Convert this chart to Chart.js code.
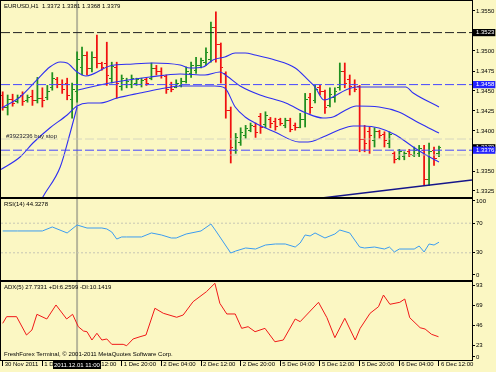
<!DOCTYPE html>
<html><head><meta charset="utf-8">
<script src="https://cdn.jsdelivr.net/npm/chart.js@4"></script>
<style>
html,body{margin:0;padding:0;background:#fbf7c3;width:496px;height:372px;overflow:hidden}
canvas{position:absolute;left:0}
</style></head><body>
<canvas id="main" width="496" height="198" style="top:0px"></canvas>
<canvas id="rsi" width="496" height="83" style="top:198px"></canvas>
<canvas id="adx" width="496" height="91" style="top:281px"></canvas>
<script>
// ---------- DATA ----------
const barOpen  = [1.3445,1.3430,1.3440,1.3437,1.3444,1.3438,1.3443,1.3438,1.3441,1.3442,1.3454,1.3464,1.3458,1.3460,1.3440,1.3450,1.3480,1.3495,1.3478,1.3492,1.3484,1.3484,1.3466,1.3480,1.3456,1.3458,1.3458,1.3459,1.3458,1.3464,1.3466,1.3478,1.3474,1.3468,1.3455,1.3455,1.3457,1.3462,1.3472,1.3476,1.3482,1.3486,1.3490,1.3530,1.3508,1.3472,1.3426,1.3376,1.3386,1.3395,1.3401,1.3406,1.3418,1.3408,1.3414,1.3412,1.3414,1.3407,1.3413,1.3407,1.3405,1.3414,1.3442,1.3438,1.3454,1.3449,1.3432,1.3442,1.3455,1.3475,1.3464,1.3458,1.3456,1.3390,1.3400,1.3388,1.3399,1.3396,1.3384,1.3372,1.3366,1.3368,1.3375,1.3370,1.3372,1.3376,1.3340,1.3376,1.3372];
const barHigh  = [1.3449,1.3445,1.3446,1.3445,1.3449,1.3445,1.3451,1.3467,1.3454,1.3457,1.3473,1.3467,1.3464,1.3466,1.3460,1.3499,1.3505,1.3499,1.3499,1.3520,1.3486,1.3511,1.3486,1.3486,1.3470,1.3466,1.3470,1.3466,1.3466,1.3466,1.3485,1.3482,1.3479,1.3470,1.3461,1.3464,1.3466,1.3480,1.3486,1.3492,1.3491,1.3504,1.3536,1.3549,1.3510,1.3474,1.3430,1.3397,1.3404,1.3407,1.3410,1.3410,1.3422,1.3424,1.3417,1.3416,1.3416,1.3416,1.3416,1.3410,1.3422,1.3447,1.3447,1.3457,1.3457,1.3451,1.3454,1.3454,1.3485,1.3485,1.3470,1.3464,1.3457,1.3407,1.3405,1.3404,1.3401,1.3399,1.3399,1.3374,1.3377,1.3374,1.3377,1.3380,1.3382,1.3382,1.3385,1.3380,1.3381];
const barLow   = [1.3426,1.3420,1.3431,1.3435,1.3432,1.3436,1.3432,1.3435,1.3430,1.3439,1.3451,1.3454,1.3447,1.3439,1.3416,1.3436,1.3470,1.3470,1.3474,1.3479,1.3476,1.3457,1.3460,1.3441,1.3451,1.3454,1.3454,1.3457,1.3455,1.3457,1.3464,1.3470,1.3466,1.3447,1.3449,1.3454,1.3455,1.3460,1.3467,1.3472,1.3479,1.3482,1.3486,1.3486,1.3460,1.3416,1.3360,1.3372,1.3382,1.3391,1.3399,1.3392,1.3397,1.3404,1.3404,1.3401,1.3407,1.3404,1.3399,1.3401,1.3404,1.3405,1.3422,1.3435,1.3445,1.3422,1.3430,1.3436,1.3451,1.3454,1.3445,1.3449,1.3374,1.3374,1.3372,1.3380,1.3391,1.3380,1.3379,1.3360,1.3364,1.3364,1.3368,1.3368,1.3368,1.3332,1.3332,1.3357,1.3368];
const barClose = [1.3430,1.3440,1.3434,1.3442,1.3437,1.3442,1.3438,1.3441,1.3438,1.3450,1.3466,1.3458,1.3452,1.3445,1.3452,1.3490,1.3495,1.3478,1.3492,1.3484,1.3480,1.3470,1.3481,1.3460,1.3466,1.3462,1.3466,1.3464,1.3463,1.3460,1.3478,1.3474,1.3470,1.3452,1.3452,1.3460,1.3462,1.3474,1.3482,1.3482,1.3488,1.3498,1.3530,1.3508,1.3480,1.3426,1.3380,1.3392,1.3398,1.3403,1.3407,1.3398,1.3404,1.3420,1.3409,1.3406,1.3410,1.3413,1.3402,1.3404,1.3415,1.3440,1.3430,1.3452,1.3449,1.3430,1.3446,1.3450,1.3475,1.3460,1.3456,1.3452,1.3390,1.3384,1.3394,1.3400,1.3394,1.3388,1.3396,1.3364,1.3374,1.3372,1.3371,1.3376,1.3378,1.3340,1.3375,1.3366,1.3379];

const bandUpBar  = [-0.2,3.5,6.9,9.5,11.6,13,15,16.8,21.6,26.3,30.3,35.8,37.8,40.4,42.4,44.8,46.9,48.9,50.9,54.9,59,61.6,63,64.8,66.6,69.2,71.3,81.3,82.8,88];
const bandUpVal  = [1.34288,1.34425,1.34638,1.34800,1.34863,1.34850,1.34738,1.34688,1.34813,1.34838,1.34850,1.34825,1.34788,1.34800,1.34888,1.34925,1.34975,1.34975,1.34950,1.34888,1.34788,1.34638,1.34550,1.34388,1.34425,1.34513,1.34550,1.34550,1.34475,1.34300];
const bandMidBar = [15.2,21.6,29.7,35.8,40.8,43.8,45.2,47.9,51.9,57.1,61.2,64.6,66.6,69.2,71.3,75.9,79.9,84,88];
const bandMidVal = [1.34513,1.34600,1.34675,1.34713,1.34700,1.34738,1.34688,1.34563,1.34450,1.34350,1.34225,1.34163,1.34175,1.34263,1.34313,1.34300,1.34238,1.34100,1.33975];
const bandLowBar = [-0.5,3.5,6.1,9.5,13,15,17.2,19.6,23.1,27.7,31.7,35.8,42.8,44.8,46.9,48.9,50.9,54.9,59.8,61.6,64.6,67.8,70.7,72.7,75.9,79.3,82.8,85.4,88];
const bandLowVal = [1.33513,1.33675,1.33850,1.34038,1.34200,1.34313,1.34350,1.34350,1.34413,1.34475,1.34525,1.34563,1.34563,1.34538,1.34300,1.34175,1.34100,1.33988,1.33863,1.33863,1.33925,1.34013,1.34063,1.34063,1.34038,1.33950,1.33800,1.33700,1.33613];
const bandEdgeBar = [7.5,8.1,11.6,13.6,15];
const bandEdgeVal = [1.33100,1.33175,1.33550,1.33975,1.34300];
const trendBar = [64,94.66];
const trendVal = [1.33160,1.33388];

const levelBlack = 1.3523, levelBlue1 = 1.3458, levelBlue2 = 1.3376;
const levelFaint = [1.3390, 1.3370];
const priceTicks = [1.3550,1.3523,1.3500,1.3475,1.3458,1.3450,1.3425,1.3400,1.3379,1.3376,1.3350,1.3325];

const rsiBar = [0,3,8,10,13,15,17,20,21,22,23,24,25,28,30,32,34,35,37,40,42,43,46,47,49,51,53,55,57,59,60,61,62,63,65,67,68,70,72,73,75,77,78,79,80,83,84,85,86,87,88];
const rsiVal = [59.5,59.5,59.5,64.9,56.8,67.6,63.5,63.5,62.2,58.1,48.6,51.4,51.4,51.4,56.8,54.1,50,50,55.4,59.5,68.9,59.5,29.7,32.4,36.5,35.1,40.5,41.9,41.9,37.8,43.2,54.1,52.7,56.8,50,55.4,60.8,56.8,37.8,36.5,37.8,35.1,37.8,31.1,35.1,35.1,39.2,31.1,41.9,40.5,44.3];
const rsiTicks = [100,70,30,0];
const rsiLevels = [70,30];

const adxBar = [0,0.8,2.8,4.8,5.9,6.9,8.9,10.75,12.9,14.1,15.25,16.3,17,18,19,20,21,22,24.3,25,26.3,27.7,28.9,30.7,32.4,35.1,36.4,38.4,41.1,42.8,43.8,45.2,46.9,48.2,49.5,50.9,52.9,54.9,56.6,59,60,63.7,65.4,67,69,71.1,72.1,74.1,75.8,76.8,78.1,80.1,81.1,82.1,84.2,85.2,86.5,87.9];
const adxVal = [48.7,56.4,56.4,35.2,41,59.1,53.7,69.9,53.7,59.1,44.8,39.8,39,29.4,37.2,29.4,30.6,24.4,24.4,22.8,30.6,33.2,35.2,66.1,60.3,55.7,58.3,73.7,85.3,95,71.8,59.5,59.5,42.9,44.8,39,42.9,27.4,29.4,53.7,50.6,73,55.2,32.1,54.5,29.4,42.9,60.3,67.9,81.4,70.7,73,76.8,55.2,43.6,42.1,36,33.2];
const adxTicks = [93,69,46,23,9.8];
const adxTickText = ['93','69','46','23','0'];

const xTickBars = [0,8,16,24,32,40,48,56,64,72,80,88];
const xTickLabels = ['30 Nov 2011','1 Dec 04:00','1 Dec 12:00','1 Dec 20:00','2 Dec 04:00','2 Dec 12:00','2 Dec 20:00','5 Dec 04:00','5 Dec 12:00','5 Dec 20:00','6 Dec 04:00','6 Dec 12:00'];
const crossBar = 15;
const crossLabel = '2011.12.01 11:00';

const mainTitle = 'EURUSD,H1  1.3372 1.3381 1.3368 1.3379';
const orderLabel = '#3923236 buy stop';
const rsiTitle = 'RSI(14) 44.3278';
const adxTitle = 'ADX(5) 27.7331 +DI:6.2599 -DI:10.1419';
const footer = 'FreshForex Terminal, \u00a9 2001-2011 MetaQuotes Software Corp.';

// ---------- STYLE ----------
const FONT = '"Liberation Sans", Arial, sans-serif';
const FS = 6;
const X_MIN = -0.343, X_MAX = 94.66;
const UP = '#1f8f1f', DN = '#f01010';
const BAND = '#2e2ef2';
const DASH = [9,3];

function pts(xs, ys){ return xs.map((x,i)=>({x:x, y:ys[i]})); }
function hline(v){ return [{x:X_MIN,y:v},{x:X_MAX,y:v}]; }

function tickImg(color, side){
  const c = document.createElement('canvas'); c.width = 5; c.height = 1;
  const g = c.getContext('2d'); g.fillStyle = color;
  if (side === 'L') g.fillRect(0,0,2,1); else g.fillRect(3,0,2,1);
  return c;
}
const imgs = {LU:tickImg(UP,'L'), LD:tickImg(DN,'L'), RU:tickImg(UP,'R'), RD:tickImg(DN,'R')};
const isUp = i => barClose[i] >= barOpen[i];

function noPad(s){ s.paddingTop = 0; s.paddingBottom = 0; s.paddingLeft = 0; s.paddingRight = 0; }
function xAxis(display){
  const o = {type:'linear', min:X_MIN, max:X_MAX, offset:false, display:display,
    grid:{drawOnChartArea:false, drawTicks:true, tickLength:6, color:'#000'},
    border:{display:false}};
  if (display){
    o.afterFit = s => { s.height = 12; noPad(s); };
    o.afterBuildTicks = s => { s.ticks = xTickBars.map(v=>({value:v})); };
    o.ticks = {autoSkip:false, maxRotation:0, minRotation:0, align:'start', labelOffset:2, padding:-5,
      font:{family:FONT,size:FS}, color:'#000', callback:(v,i)=>xTickLabels[i]};
  }
  return o;
}
function yAxis(min, max, ticks, fmt, extra){
  return Object.assign({position:'right', min:min, max:max,
    afterFit: s => { s.width = 24; noPad(s); },
    afterBuildTicks: s => { s.ticks = ticks.map(v=>({value:v})); },
    grid:{drawOnChartArea:false, drawTicks:true, tickLength:3, color:'#000'},
    border:{display:false},
    ticks:{autoSkip:false, padding:1, font:{family:FONT,size:FS}, color:'#000', callback:fmt}}, extra||{});
}

const framePlugin = {id:'frame', afterDraw(chart){
  const {ctx, chartArea:a} = chart; ctx.save(); ctx.strokeStyle = '#000'; ctx.lineWidth = 1;
  ctx.strokeRect(a.left-0.5, a.top-0.5, a.right-a.left+1, a.bottom-a.top+1); ctx.restore();
}};
const crossPlugin = {id:'cross', beforeDatasetsDraw(chart){
  const {ctx, chartArea:a} = chart; const x = chart.scales.x.getPixelForValue(crossBar);
  ctx.save(); ctx.strokeStyle = 'rgba(160,160,140,0.75)'; ctx.lineWidth = 2;
  ctx.beginPath(); ctx.moveTo(x, a.top); ctx.lineTo(x, a.bottom); ctx.stroke(); ctx.restore();
}};
function textPlugin(items){
  return {id:'texts', afterDatasetsDraw(chart){
    const {ctx, chartArea:a} = chart; ctx.save();
    ctx.font = FS + 'px ' + FONT; ctx.textBaseline = 'middle'; ctx.textAlign = 'left';
    items.forEach(it => { const p = it(chart, a); ctx.fillStyle = p.color || '#000'; ctx.fillText(p.text, p.x, p.y); });
    ctx.restore();
  }};
}
const common = {responsive:false, animation:false, devicePixelRatio:1, events:[],
  plugins:{legend:{display:false}, tooltip:{enabled:false}, title:{display:false}}};

// ---------- MAIN PRICE CHART ----------
const boxColor = v => ({'1.3523':'#000000','1.3458':'#2323ff','1.3379':'#000000','1.3376':'#2323ff'})[v.toFixed(4)];
new Chart(document.getElementById('main'), {
  type:'bar',
  data:{datasets:[
    {type:'line', data:hline(levelBlack), borderColor:'#222', borderWidth:1, borderDash:DASH, pointRadius:0, order:1},
    {type:'line', data:hline(levelBlue1), borderColor:'#4646ff', borderWidth:1, borderDash:DASH, pointRadius:0, order:1},
    {type:'line', data:hline(levelBlue2), borderColor:'#4646ff', borderWidth:1, borderDash:DASH, pointRadius:0, order:1},
    {type:'line', data:hline(levelFaint[0]), borderColor:'rgba(200,200,190,0.7)', borderWidth:1, borderDash:DASH, pointRadius:0, order:1},
    {type:'line', data:hline(levelFaint[1]), borderColor:'rgba(200,200,190,0.8)', borderWidth:1, borderDash:DASH, pointRadius:0, order:1},
    {type:'line', data:pts(trendBar,trendVal), borderColor:'#15158a', borderWidth:1.5, pointRadius:0, order:2},
    {type:'line', data:pts(bandUpBar,bandUpVal), borderColor:BAND, borderWidth:1.1, pointRadius:0, cubicInterpolationMode:'monotone', order:3},
    {type:'line', data:pts(bandMidBar,bandMidVal), borderColor:BAND, borderWidth:1.1, pointRadius:0, cubicInterpolationMode:'monotone', order:3},
    {type:'line', data:pts(bandLowBar,bandLowVal), borderColor:BAND, borderWidth:1.1, pointRadius:0, cubicInterpolationMode:'monotone', order:3},
    {type:'line', data:pts(bandEdgeBar,bandEdgeVal), borderColor:BAND, borderWidth:1.1, pointRadius:0, cubicInterpolationMode:'monotone', order:3},
    {type:'scatter', data:barOpen.map((v,i)=>({x:i,y:v})), pointRadius:2, pointStyle:c=>isUp(c.dataIndex)?imgs.LU:imgs.LD, order:8},
    {type:'scatter', data:barClose.map((v,i)=>({x:i,y:v})), pointRadius:2, pointStyle:c=>isUp(c.dataIndex)?imgs.RU:imgs.RD, order:8},
    {type:'bar', data:barOpen.map((v,i)=>({x:i,y:[barLow[i],barHigh[i]]})), backgroundColor:c=>isUp(c.dataIndex)?UP:DN,
      barThickness:1.1, grouped:false, borderWidth:0, order:9}
  ]},
  options:Object.assign({}, common, {
    layout:{autoPadding:false, padding:{left:1,right:0,top:1,bottom:1}},
    scales:{
      x:xAxis(false),
      y:yAxis(1.33175, 1.35625, priceTicks, v=>v.toFixed(4), {
        grid:{drawOnChartArea:false, drawTicks:true, tickLength:3, color:c=>boxColor(c.tick.value)?'rgba(0,0,0,0)':'#000'},
        ticks:{autoSkip:false, padding:1, font:{family:FONT,size:FS},
          color:c=>boxColor(c.tick.value)?'#fff':'#000',
          showLabelBackdrop:c=>!!boxColor(c.tick.value),
          backdropColor:c=>boxColor(c.tick.value)||'rgba(0,0,0,0)',
          backdropPadding:{left:3,right:1,top:0,bottom:0},
          callback:v=>v.toFixed(4)}
      })
    }
  }),
  plugins:[crossPlugin, framePlugin, textPlugin([
    (ch,a)=>({text:mainTitle, x:a.left+3, y:a.top+5}),
    (ch,a)=>({text:orderLabel, x:a.left+5, y:ch.scales.y.getPixelForValue(levelBlue2)-14, color:'#202030'})
  ])]
});

// ---------- RSI ----------
new Chart(document.getElementById('rsi'), {
  type:'line',
  data:{datasets:[
    {data:pts(rsiBar,rsiVal), borderColor:'#3b9cf0', borderWidth:1, pointRadius:0, order:1},
    {data:hline(rsiLevels[0]), borderColor:'#c6c6b4', borderWidth:1, borderDash:[2,2], pointRadius:0, order:2},
    {data:hline(rsiLevels[1]), borderColor:'#c6c6b4', borderWidth:1, borderDash:[2,2], pointRadius:0, order:2}
  ]},
  options:Object.assign({}, common, {
    layout:{autoPadding:false, padding:{left:1,right:0,top:1,bottom:1}},
    scales:{x:xAxis(false), y:yAxis(-6.76, 102.7, rsiTicks, v=>String(v))}
  }),
  plugins:[crossPlugin, framePlugin, textPlugin([(ch,a)=>({text:rsiTitle, x:a.left+3, y:a.top+5})])]
});

// ---------- ADX ----------
new Chart(document.getElementById('adx'), {
  type:'line',
  data:{datasets:[
    {data:pts(adxBar,adxVal), borderColor:'#f01818', borderWidth:1, pointRadius:0}
  ]},
  options:Object.assign({}, common, {
    layout:{autoPadding:false, padding:{left:1,right:0,top:1,bottom:0}},
    scales:{x:xAxis(true), y:yAxis(6.30, 96.47, adxTicks, (v,i)=>adxTickText[i])}
  }),
  plugins:[crossPlugin, framePlugin, textPlugin([
    (ch,a)=>({text:adxTitle, x:a.left+3, y:a.top+5}),
    (ch,a)=>({text:footer, x:a.left+3, y:a.bottom-6})
  ]), {id:'crossBox', afterDraw(chart){
    const {ctx, chartArea:a} = chart; const x = chart.scales.x.getPixelForValue(crossBar);
    ctx.save(); ctx.font = FS + 'px ' + FONT;
    const w = Math.ceil(ctx.measureText(crossLabel).width) + 2;
    const l = Math.round(x - w/2);
    ctx.fillStyle = '#000'; ctx.fillRect(l, a.bottom+1, w, 8);
    ctx.fillStyle = '#fff'; ctx.textBaseline = 'middle'; ctx.fillText(crossLabel, l+1, a.bottom+5);
    ctx.restore();
  }}]
});
</script>
</body></html>
